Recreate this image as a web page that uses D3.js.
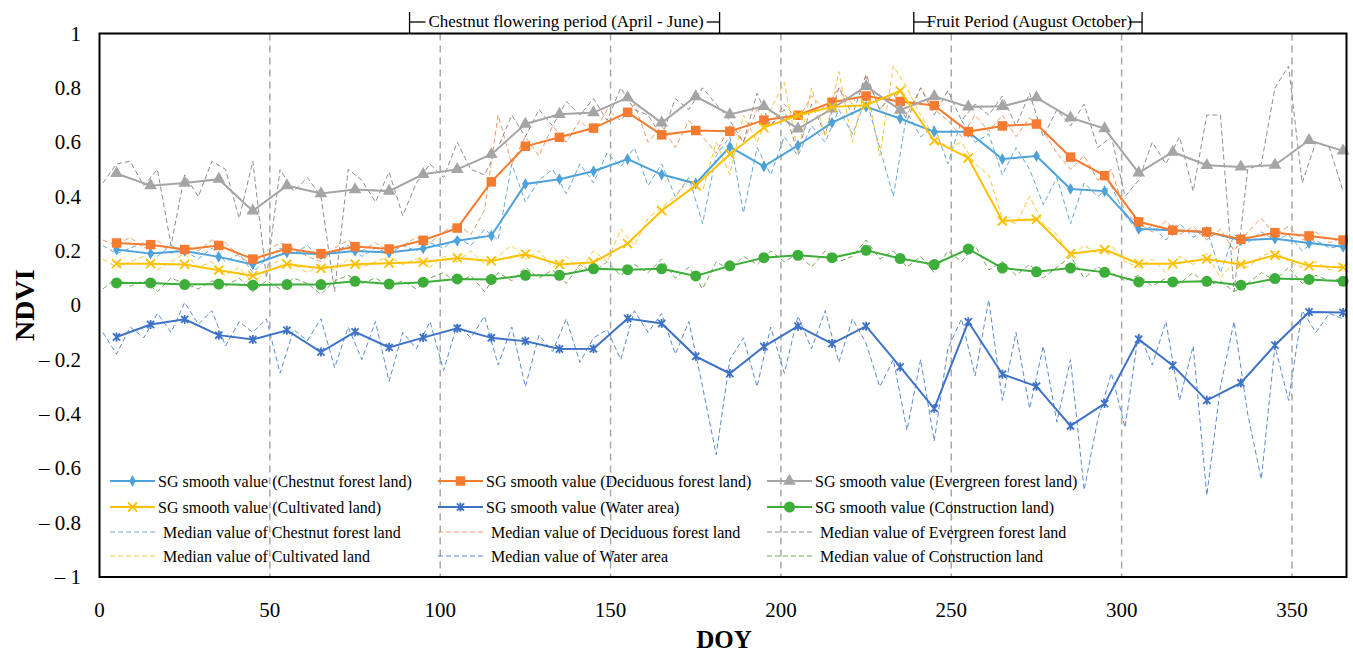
<!DOCTYPE html>
<html>
<head>
<meta charset="utf-8">
<script src="https://cdn.jsdelivr.net/npm/d3@7"></script>
<style>
  body { margin: 0; background: #fff; }
  svg { display: block; font-family: "Liberation Serif", "Times New Roman", serif; }
</style>
</head>
<body>
<div id="chart"></div>
<script>
// SG smoothed values, every 10 days
var sgDoy = [5,15,25,35,45,55,65,75,85,95,105,115,125,135,145,155,165,175,185,195,205,215,225,235,245,255,265,275,285,295,305,315,325,335,345,355,365];

var sgChestnut = [0.205,0.19,0.20,0.178,0.15,0.194,0.188,0.20,0.194,0.209,0.237,0.256,0.446,0.464,0.493,0.538,0.481,0.448,0.583,0.511,0.588,0.672,0.730,0.687,0.638,0.638,0.538,0.549,0.428,0.42,0.281,0.276,0.27,0.239,0.245,0.229,0.215];
var sgDeciduous = [0.229,0.223,0.205,0.22,0.17,0.209,0.19,0.216,0.207,0.239,0.284,0.454,0.585,0.618,0.652,0.71,0.627,0.643,0.64,0.681,0.699,0.747,0.770,0.75,0.735,0.639,0.66,0.667,0.545,0.477,0.307,0.276,0.27,0.243,0.267,0.255,0.24];
var sgEvergreen = [0.485,0.44,0.45,0.464,0.347,0.44,0.411,0.426,0.42,0.482,0.50,0.555,0.667,0.703,0.709,0.764,0.671,0.768,0.702,0.732,0.649,0.723,0.806,0.718,0.769,0.73,0.732,0.764,0.69,0.65,0.487,0.564,0.515,0.509,0.516,0.607,0.568];
var sgCultivated = [0.153,0.153,0.15,0.129,0.109,0.151,0.136,0.151,0.155,0.159,0.174,0.163,0.188,0.15,0.158,0.227,0.348,0.441,0.556,0.654,0.699,0.73,0.736,0.789,0.605,0.542,0.31,0.316,0.19,0.205,0.153,0.153,0.17,0.15,0.184,0.145,0.139];
var sgWater = [-0.117,-0.071,-0.052,-0.11,-0.126,-0.092,-0.172,-0.098,-0.155,-0.119,-0.085,-0.12,-0.132,-0.161,-0.16,-0.049,-0.067,-0.188,-0.251,-0.152,-0.077,-0.141,-0.077,-0.227,-0.38,-0.061,-0.254,-0.298,-0.444,-0.362,-0.125,-0.222,-0.35,-0.286,-0.147,-0.025,-0.027];
var sgConstruction = [0.082,0.082,0.076,0.078,0.074,0.076,0.076,0.088,0.078,0.085,0.097,0.095,0.11,0.11,0.134,0.131,0.134,0.108,0.145,0.175,0.184,0.175,0.202,0.172,0.15,0.207,0.137,0.123,0.137,0.121,0.086,0.086,0.088,0.074,0.098,0.095,0.088];

// median values, every 4 days from DOY 1 to 365
var medDoy = d3.range(1, 366, 4);

var medChestnut = [0.22,0.19,0.21,0.23,0.18,0.22,0.20,0.17,0.21,0.16,0.19,0.12,0.17,0.21,0.19,0.22,0.17,0.20,0.22,0.18,0.21,0.19,0.22,0.20,0.23,0.21,0.25,0.22,0.28,0.24,0.52,0.38,0.46,0.50,0.41,0.52,0.45,0.56,0.51,0.58,0.44,0.52,0.40,0.47,0.30,0.55,0.62,0.34,0.58,0.48,0.62,0.55,0.66,0.60,0.72,0.63,0.76,0.58,0.40,0.71,0.62,0.66,0.52,0.68,0.60,0.63,0.48,0.58,0.50,0.37,0.47,0.30,0.45,0.40,0.44,0.33,0.27,0.29,0.24,0.30,0.25,0.28,0.12,0.26,0.23,0.27,0.24,0.26,0.20,0.24,0.21,0.22];
var medDeciduous = [0.24,0.22,0.25,0.21,0.24,0.19,0.22,0.20,0.24,0.23,0.18,0.15,0.20,0.23,0.21,0.18,0.16,0.21,0.24,0.20,0.23,0.20,0.22,0.25,0.23,0.27,0.30,0.26,0.35,0.70,0.52,0.62,0.55,0.66,0.60,0.68,0.63,0.72,0.68,0.74,0.60,0.66,0.58,0.68,0.62,0.56,0.66,0.60,0.72,0.66,0.74,0.68,0.77,0.72,0.80,0.74,0.84,0.72,0.78,0.70,0.80,0.72,0.68,0.62,0.70,0.64,0.70,0.62,0.69,0.64,0.56,0.50,0.55,0.46,0.50,0.34,0.30,0.27,0.31,0.26,0.29,0.24,0.28,0.20,0.27,0.32,0.26,0.29,0.24,0.27,0.23,0.25];
var medEvergreen = [0.45,0.52,0.53,0.44,0.50,0.22,0.48,0.40,0.53,0.50,0.32,0.53,0.10,0.50,0.42,0.47,0.40,0.05,0.50,0.46,0.38,0.49,0.33,0.45,0.52,0.47,0.60,0.50,0.48,0.58,0.70,0.62,0.72,0.66,0.75,0.70,0.76,0.68,0.80,0.72,0.70,0.62,0.76,0.72,0.80,0.74,0.68,0.60,0.78,0.66,0.72,0.56,0.74,0.63,0.80,0.70,0.85,0.72,0.78,0.68,0.80,0.70,0.79,0.68,0.74,0.70,0.77,0.66,0.78,0.62,0.72,0.66,0.74,0.58,0.62,0.40,0.46,0.60,0.52,0.62,0.42,0.70,0.70,0.05,0.50,0.52,0.80,0.88,0.45,0.60,0.58,0.42];
var medCultivated = [0.17,0.14,0.16,0.18,0.13,0.16,0.19,0.14,0.16,0.11,0.14,0.08,0.13,0.17,0.15,0.12,0.15,0.13,0.17,0.14,0.16,0.18,0.15,0.17,0.14,0.18,0.16,0.20,0.15,0.18,0.22,0.17,0.20,0.14,0.18,0.13,0.20,0.16,0.28,0.22,0.32,0.36,0.40,0.46,0.42,0.60,0.48,0.70,0.60,0.72,0.82,0.56,0.80,0.62,0.86,0.60,0.82,0.55,0.88,0.80,0.70,0.62,0.58,0.60,0.52,0.48,0.32,0.30,0.40,0.30,0.26,0.18,0.22,0.19,0.22,0.16,0.14,0.17,0.12,0.18,0.15,0.19,0.10,0.16,0.14,0.18,0.20,0.16,0.14,0.16,0.13,0.15];
var medWater = [-0.10,-0.18,-0.08,-0.12,-0.03,-0.10,0.01,-0.07,-0.02,-0.15,-0.06,-0.10,-0.05,-0.25,-0.09,-0.13,-0.05,-0.23,-0.08,-0.20,-0.06,-0.28,-0.10,-0.16,-0.06,-0.24,-0.07,-0.12,-0.04,-0.22,-0.08,-0.30,-0.11,-0.17,-0.05,-0.21,-0.12,-0.09,-0.20,-0.02,-0.10,-0.03,-0.18,-0.06,-0.30,-0.55,-0.20,-0.12,-0.30,-0.08,-0.25,-0.04,-0.16,-0.02,-0.21,-0.05,-0.14,-0.30,-0.20,-0.46,-0.20,-0.50,-0.16,-0.05,-0.26,0.02,-0.35,-0.10,-0.38,-0.15,-0.43,-0.20,-0.68,-0.42,-0.25,-0.45,-0.10,-0.22,-0.06,-0.35,-0.15,-0.70,-0.30,-0.06,-0.40,-0.64,-0.15,-0.35,-0.02,-0.10,-0.03,-0.05];
var medConstruction = [0.06,0.10,0.07,0.09,0.05,0.10,0.08,0.06,0.09,0.07,0.10,0.05,0.09,0.06,0.10,0.08,0.04,0.09,0.11,0.08,0.10,0.07,0.09,0.06,0.10,0.12,0.08,0.11,0.05,0.12,0.09,0.14,0.10,0.13,0.08,0.15,0.12,0.16,0.11,0.15,0.12,0.17,0.10,0.14,0.06,0.16,0.13,0.18,0.15,0.20,0.16,0.19,0.14,0.20,0.16,0.18,0.24,0.17,0.20,0.14,0.18,0.12,0.20,0.16,0.22,0.13,0.16,0.11,0.15,0.10,0.14,0.18,0.10,0.14,0.12,0.09,0.11,0.07,0.10,0.08,0.12,0.07,0.09,0.05,0.08,0.12,0.09,0.14,0.08,0.11,0.09,0.10];

var yTicks = [1,0.8,0.6,0.4,0.2,0,-0.2,-0.4,-0.6,-0.8,-1];
var xTicks = [0,50,100,150,200,250,300,350];

var periods = [
  {name: "Chestnut flowering period (April - June)", from: 91, to: 182},
  {name: "Fruit Period (August October)", from: 239, to: 306}
];

var width = 1353, height = 655;
var margin = {top: 33.5, right: 6.5, bottom: 78, left: 99.5};

var svg = d3.select("#chart").append("svg")
    .attr("width", width)
    .attr("height", height);

var x = d3.scaleLinear()
    .domain([0, 366])
    .range([margin.left, width - margin.right]);

var y = d3.scaleLinear()
    .domain([-1, 1])
    .range([height - margin.bottom, margin.top]);

// little custom markers for x and asterisk
function xPath(s) {
  return "M" + (-s) + "," + (-s) + "L" + s + "," + s + "M" + (-s) + "," + s + "L" + s + "," + (-s);
}
function starPath(s) {
  return xPath(s * 0.8) + "M0," + (-s) + "L0," + s;
}

var series = [
  {label: "SG smooth value (Chestnut forest land)", values: sgChestnut, color: "#4ea2da", marker: "diamond"},
  {label: "SG smooth value (Deciduous forest land)", values: sgDeciduous, color: "#f47b30", marker: "square"},
  {label: "SG smooth value (Evergreen forest land)", values: sgEvergreen, color: "#a5a5a5", marker: "triangle"},
  {label: "SG smooth value (Cultivated land)", values: sgCultivated, color: "#ffc000", marker: "x"},
  {label: "SG smooth value (Water area)", values: sgWater, color: "#3d72c6", marker: "star"},
  {label: "SG smooth value (Construction land)", values: sgConstruction, color: "#3dae3a", marker: "circle"}
];

var medians = [
  {label: "Median value of Chestnut forest land", values: medChestnut, color: "#64a9dc"},
  {label: "Median value of Deciduous forest land", values: medDeciduous, color: "#ee9a66"},
  {label: "Median value of Evergreen forest land", values: medEvergreen, color: "#8e8e8e"},
  {label: "Median value of Cultivated land", values: medCultivated, color: "#f6c63c"},
  {label: "Median value of Water area", values: medWater, color: "#5a8bd0"},
  {label: "Median value of Construction land", values: medConstruction, color: "#78a85c"}
];

function drawMarker(g, type, color) {
  if (type == "diamond") {
    g.append("path").attr("d", d3.symbol().type(d3.symbolDiamond).size(40)).attr("fill", color);
  } else if (type == "square") {
    g.append("path").attr("d", d3.symbol().type(d3.symbolSquare).size(90)).attr("fill", color);
  } else if (type == "triangle") {
    g.append("path").attr("d", d3.symbol().type(d3.symbolTriangle).size(70)).attr("fill", color);
  } else if (type == "circle") {
    g.append("circle").attr("r", 5.5).attr("fill", color);
  } else if (type == "x") {
    g.append("path").attr("d", xPath(4.5)).attr("stroke", color).attr("stroke-width", 1.8).attr("fill", "none");
  } else if (type == "star") {
    g.append("path").attr("d", starPath(4.5)).attr("stroke", color).attr("stroke-width", 1.8).attr("fill", "none");
  }
}

// vertical dashed gridlines
svg.append("g")
  .selectAll("line")
  .data(xTicks.filter(function(d) { return d > 0; }))
  .enter().append("line")
    .attr("x1", x).attr("x2", x)
    .attr("y1", y(1)).attr("y2", y(-1))
    .attr("stroke", "#a8a8a8")
    .attr("stroke-width", 1.5)
    .attr("stroke-dasharray", "7,5");

var medLine = d3.line()
    .x(function(d, i) { return x(medDoy[i]); })
    .y(function(d) { return y(d); });

svg.append("g")
  .selectAll("path")
  .data(medians)
  .enter().append("path")
    .attr("d", function(d) { return medLine(d.values); })
    .attr("fill", "none")
    .attr("stroke", function(d) { return d.color; })
    .attr("stroke-width", 1)
    .attr("stroke-dasharray", "5,3");

var sgLine = d3.line()
    .x(function(d, i) { return x(sgDoy[i]); })
    .y(function(d) { return y(d); });

var sgG = svg.append("g");
series.forEach(function(s) {
  sgG.append("path")
    .attr("d", sgLine(s.values))
    .attr("fill", "none")
    .attr("stroke", s.color)
    .attr("stroke-width", 2);
  s.values.forEach(function(v, i) {
    var m = sgG.append("g").attr("transform", "translate(" + x(sgDoy[i]) + "," + y(v) + ")");
    drawMarker(m, s.marker, s.color);
  });
});

// frame
svg.append("rect")
    .attr("x", x(0)).attr("y", y(1))
    .attr("width", x(366) - x(0))
    .attr("height", y(-1) - y(1))
    .attr("fill", "none")
    .attr("stroke", "#000")
    .attr("stroke-width", 2);

// axis labels
function fmtY(d) {
  if (d < 0) return "\u2013 " + String(Math.abs(d));
  return String(d);
}

svg.append("g")
  .selectAll("text")
  .data(yTicks)
  .enter().append("text")
    .attr("x", 81)
    .attr("y", function(d) { return y(d) + 7; })
    .attr("text-anchor", "end")
    .attr("font-size", 21)
    .text(fmtY);

svg.append("g")
  .selectAll("text")
  .data(xTicks)
  .enter().append("text")
    .attr("x", x)
    .attr("y", 617)
    .attr("text-anchor", "middle")
    .attr("font-size", 21)
    .text(function(d) { return d; });

svg.append("text")
    .attr("transform", "translate(34," + y(0) + ") rotate(-90)")
    .attr("text-anchor", "middle")
    .attr("font-size", 28)
    .attr("font-weight", "bold")
    .text("NDVI");

svg.append("text")
    .attr("x", 724)
    .attr("y", 648)
    .attr("text-anchor", "middle")
    .attr("font-size", 25)
    .attr("font-weight", "bold")
    .text("DOY");

// period brackets on top
var pg = svg.append("g").attr("stroke", "#000").attr("stroke-width", 1.3);
periods.forEach(function(p) {
  var x0 = x(p.from), x1 = x(p.to);
  pg.append("line").attr("x1", x0).attr("x2", x0).attr("y1", 12).attr("y2", y(1));
  pg.append("line").attr("x1", x1).attr("x2", x1).attr("y1", 12).attr("y2", y(1));
  pg.append("line").attr("x1", x0).attr("x2", x0 + 16).attr("y1", 22).attr("y2", 22);
  pg.append("line").attr("x1", x1 - 13).attr("x2", x1).attr("y1", 22).attr("y2", 22);
  svg.append("text")
    .attr("x", (x0 + 16 + x1 - 13) / 2)
    .attr("y", 27)
    .attr("text-anchor", "middle")
    .attr("font-size", 17)
    .text(p.name);
});

// legend, 3 columns x 4 rows
var legCols = [110, 438, 767];
var legRows = [481, 507, 532, 556];
var legItems = series.map(function(s) { return {label: s.label, color: s.color, marker: s.marker, dash: false}; })
  .concat(medians.map(function(m) { return {label: m.label, color: m.color, dash: true}; }));

var leg = svg.append("g").attr("font-size", 16);
legItems.forEach(function(d, i) {
  var cx = legCols[i % 3], cy = legRows[Math.floor(i / 3)];
  var g = leg.append("g").attr("transform", "translate(" + cx + "," + cy + ")");
  g.append("line")
    .attr("x1", 0).attr("x2", 45)
    .attr("stroke", d.color)
    .attr("stroke-width", d.dash ? 1 : 2)
    .attr("stroke-dasharray", d.dash ? "5,3" : null);
  if (!d.dash) {
    var m = g.append("g").attr("transform", "translate(22.5,0)");
    drawMarker(m, d.marker, d.color);
  }
  g.append("text")
    .attr("x", d.dash ? 53 : 48)
    .attr("y", 5.5)
    .text(d.label);
});
</script>
</body>
</html>
